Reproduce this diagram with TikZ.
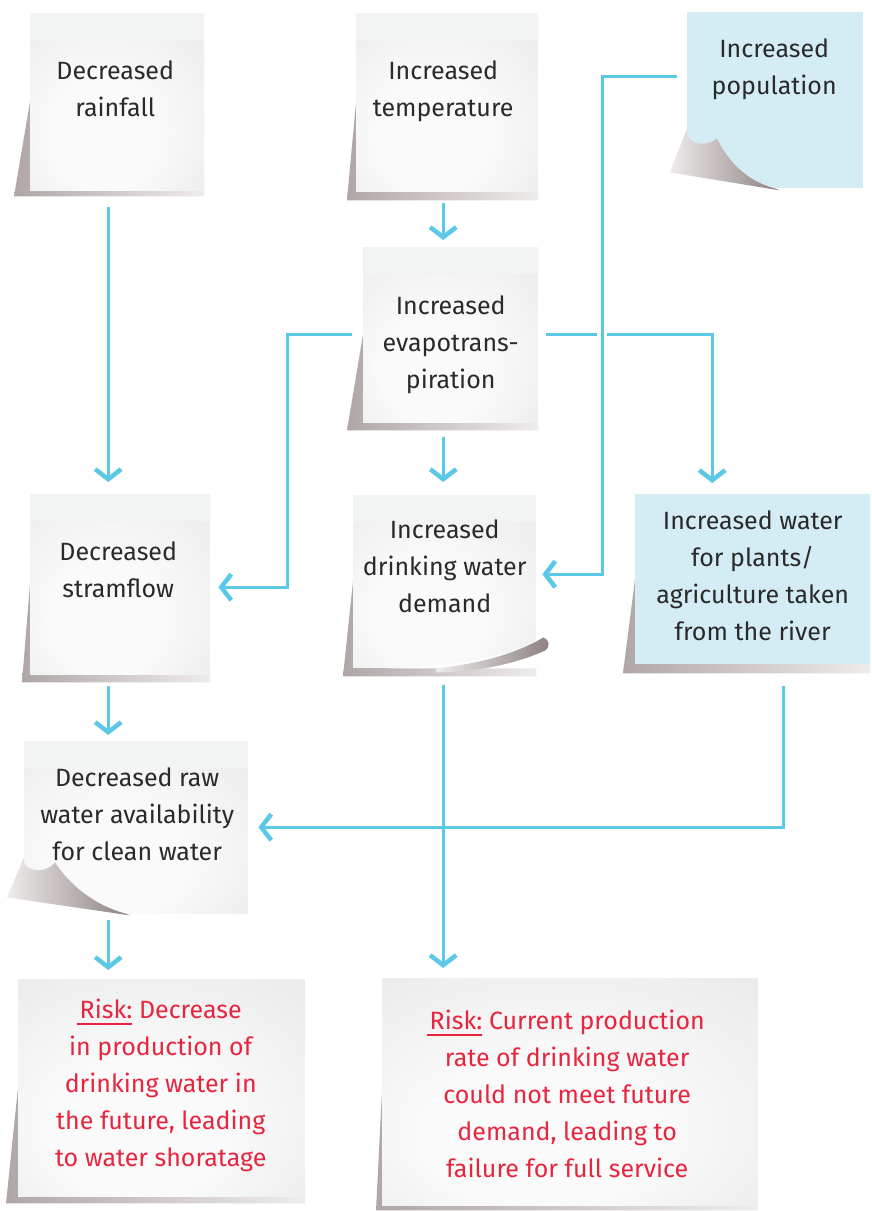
\documentclass[tikz,border=0pt]{standalone}
\usepackage{fontspec}
\setmainfont{Fira Sans}
\usetikzlibrary{arrows.meta,calc,backgrounds}

\definecolor{flowblue}{HTML}{5BC8E5}
\definecolor{paperhi}{HTML}{FAFAFA}
\definecolor{paperlo}{HTML}{E2E3E5}
\definecolor{paperstrip}{HTML}{F2F3F3}
\definecolor{noteblue}{HTML}{D4EDF5}
\definecolor{inkblack}{HTML}{2A2A2A}
\definecolor{riskred}{HTML}{E8253F}
\definecolor{shadowdark}{HTML}{B0A6A6}
\definecolor{shadowlight}{HTML}{EFECEC}
\definecolor{curldark}{HTML}{8C8080}

% soft glow on the white sticky notes
\pgfdeclareradialshading{paperglow}{\pgfpoint{-6bp}{-14bp}}%
  {color(0bp)=(paperhi); color(16bp)=(paperhi); color(50bp)=(paperlo)}

% hand-drawn underline under a word
\newcommand\riskul[1]{\setbox0\hbox{#1}%
  \rlap{\kern-3pt\raisebox{-6pt}{\color{riskred}\rule{\dimexpr\wd0+3pt\relax}{2.2pt}}}\box0}

% shadow cast to the lower left of a note
\newcommand\papershadow[3]{%
  \path[shadowfill] (#1.west) -- ($(#1.south west)+(-#2,#3)$)
    -- ($(#1.south east)+(0,#3)$) -- (#1.south east) -- cycle;}

\begin{document}
\begin{tikzpicture}[x=1pt,y=-1pt,
  paper/.style={rectangle, inner sep=0pt, anchor=north west, shade, shading=paperglow},
  bluepaper/.style={rectangle, inner sep=0pt, anchor=north west, fill=noteblue},
  note text/.style={anchor=north, align=center, text=inkblack, inner sep=0pt,
    font=\fontsize{25}{37}\selectfont},
  risk text/.style={note text, text=riskred},
  shadowfill/.style={left color=shadowdark, right color=shadowlight},
  curlfill/.style={left color=shadowlight, right color=curldark},
  flow/.style={draw=flowblue, line width=3pt,
    -{Straight Barb[length=10pt, width=26pt, line width=4.5pt]}}]

\useasboundingbox (0,0) rectangle (871,1211);

% ---- sticky notes ----
\node[paper, minimum width=174, minimum height=177] (rain) at (30,13) {};
\node[paper, minimum width=182, minimum height=178] (temp) at (356,13) {};
\node[bluepaper, minimum width=176, minimum height=176] (pop) at (687,12) {};
\node[paper, minimum width=175, minimum height=175] (evap) at (363,247) {};
\node[paper, minimum width=180, minimum height=180] (stream) at (30,494) {};
\node[paper, minimum width=183, minimum height=172] (demand) at (353,495) {};
\node[bluepaper, minimum width=235, minimum height=170] (agri) at (635,494) {};
\node[paper, minimum width=224, minimum height=172] (raw) at (24,741) {};
\node[paper, minimum width=287, minimum height=217] (risk1) at (18,979) {};
\node[paper, minimum width=376, minimum height=227] (risk2) at (382,978) {};

\begin{pgfonlayer}{background}
  \fill[white] (0,0) rectangle (871,1211);
  \papershadow{rain}{16}{6}
  \papershadow{temp}{9}{9}
  \papershadow{evap}{16}{8}
  \papershadow{stream}{8}{8}
  \papershadow{demand}{10}{9}
  \papershadow{agri}{12}{9}
  \papershadow{risk1}{12}{7}
  \papershadow{risk2}{6}{5}
\end{pgfonlayer}

% lighter adhesive strip at the top of the white notes
\foreach \n in {rain,temp,evap,stream,demand,raw}
  \fill[paperstrip] (\n.north west) rectangle ($(\n.north east)+(0,27)$);

% curled corner, population note
\begin{scope}[shift={(pop.south west)}]
  \fill[white] (0,-55) .. controls (3,-43) and (21,-42) .. (30,-50)
    .. controls (41,-28) and (58,-8) .. (88,0) -- (88,1) -- (0,1) -- cycle;
  \path[curlfill] (0,-60) -- (-17,-16) -- (93,2) -- (88,0)
    .. controls (58,-8) and (41,-28) .. (30,-50)
    .. controls (21,-42) and (3,-43) .. (0,-55) -- cycle;
\end{scope}

% curled corner, raw water note
\begin{scope}[shift={(raw.south west)}]
  \fill[white] (0,-51) .. controls (4,-41) and (22,-40) .. (31,-51)
    .. controls (46,-28) and (71,-8) .. (101,0) -- (101,1) -- (0,1) -- cycle;
  \path[curlfill] (0,-56) -- (-17,-16) -- (106,2) -- (101,0)
    .. controls (71,-8) and (46,-28) .. (31,-51)
    .. controls (22,-40) and (4,-41) .. (0,-51) -- cycle;
\end{scope}

% curled corner, drinking water demand note
\begin{scope}[shift={(demand.south east)}]
  \fill[white] (-150,1) .. controls (-70,-2) and (-25,-12) .. (0,-27)
    -- (1,-27) -- (1,1) -- cycle;
  \path[curlfill] (-100,1) .. controls (-55,-4) and (-20,-14) .. (7,-30)
    .. controls (13,-28) and (14,-20) .. (9,-17)
    .. controls (-20,-4) and (-55,4) .. (-100,5) -- cycle;
\end{scope}

% ---- texts ----
\node[note text] (rain-t) at ($(rain.north)+(-2,48)$) {Decreased\\rainfall};
\node[note text] (temp-t) at ($(temp.north)+(-4,48)$) {Increased\\temperature};
\node[note text] (pop-t) at ($(pop.north)+(-1,27)$) {Increased\\population};
\node[note text] (evap-t) at ($(evap.north)+(0,49)$) {Increased\\evapotrans-\\piration};
\node[note text] (stream-t) at ($(stream.north)+(-2,48)$) {Decreased\\stramflow};
\node[note text] (demand-t) at ($(demand.north)+(0,25)$) {Increased\\drinking water\\demand};
\node[note text] (agri-t) at ($(agri.north)+(0,17)$) {Increased water\\for plants/\\agriculture taken\\from the river};
\node[note text] (raw-t) at ($(raw.north)+(1,27)$) {Decreased raw\\water availability\\for clean water};
\node[risk text] (risk1-t) at ($(risk1.north)+(-1,20)$)
  {\riskul{Risk:}\ Decrease\\in production of\\drinking water in\\the future, leading\\to water shoratage};
\node[risk text] (risk2-t) at ($(risk2.north)+(-3,32)$)
  {\riskul{Risk:}\ Current production\\rate of drinking water\\could not meet future\\demand, leading to\\failure for full service};

% ---- connectors ----
\draw[flow, shorten <=17pt, shorten >=12pt] ([xshift=-9pt]rain.south) -- ([xshift=-12pt]stream.north);
\draw[flow, shorten <=12pt, shorten >=7pt] ([xshift=-4pt]temp.south) -- ([xshift=-7.5pt]evap.north);
\draw[flow, shorten <=15pt, shorten >=13pt] ([xshift=-7.5pt]evap.south) -- ([xshift=-1.5pt]demand.north);
\draw[flow, shorten <=11pt, shorten >=8pt] (evap.west) -- ++(-76,0) |- ($(stream.east)+(0,3)$);
\draw[flow, shorten <=8pt, shorten >=11pt] (evap.east) -| ($(agri.north)+(-40.5,0)$);
\coordinate (popturn) at ($(pop.west)+(-85,-24)$);
\coordinate (bridge) at (popturn |- evap.east);
\fill[white] ($(bridge)+(-5,-3)$) rectangle ($(bridge)+(5,3)$);
\draw[flow, shorten <=10pt, shorten >=6pt] ($(pop.west)+(0,-24)$) -- (popturn) |- ($(demand.east)+(0,-7)$);
\draw[flow, shorten <=12pt, shorten >=6pt] ([xshift=-12pt]stream.south) -- ([xshift=-28pt]raw.north);
\draw[flow, shorten <=18pt, shorten >=10pt] ([xshift=-1.5pt]demand.south) -- ([xshift=-127pt]risk2.north);
\draw[flow, shorten <=22pt, shorten >=10pt] ($(agri.south)+(30.5,0)$) |- (raw.east);
\draw[flow, shorten <=7pt, shorten >=9pt] ([xshift=-28pt]raw.south) -- ([xshift=-53.5pt]risk1.north);

\end{tikzpicture}
\end{document}
